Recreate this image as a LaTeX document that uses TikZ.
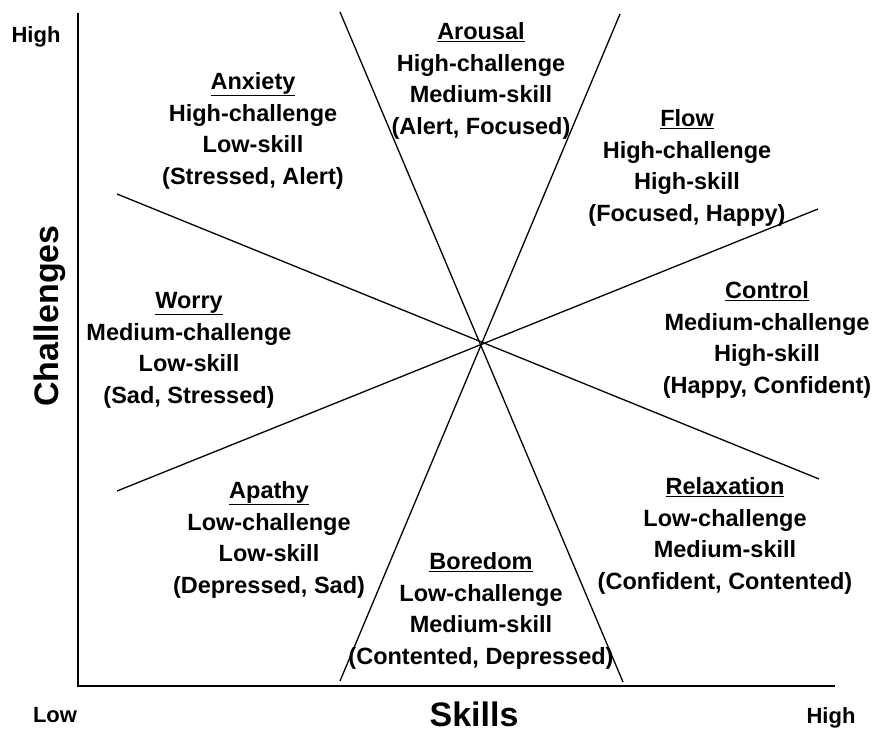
\documentclass[tikz,border=0pt]{standalone}
\usepackage{fontspec}
\setmainfont{Liberation Sans}
\begin{document}
\begin{tikzpicture}[x=1pt,y=-1pt,
  region/.style={align=center,anchor=north,inner sep=0pt,
    font=\fontsize{23.5}{31.8}\selectfont\bfseries},
  endlabel/.style={inner sep=0pt,anchor=base,font=\fontsize{22}{26}\selectfont\bfseries},
  axislabel/.style={inner sep=0pt,anchor=base,font=\fontsize{34}{40}\selectfont\bfseries},
  axis/.style={line width=1.6pt},
  divider/.style={line width=1.3pt}]
\useasboundingbox (0,0) rectangle (874,733);
% axes
\coordinate (origin) at (78,686);
\coordinate (ytop) at (78,13);
\coordinate (xend) at (835,686);
\draw[axis] (ytop) -- (origin) -- (xend);
% dividing lines
\coordinate (a1) at (340,12);
\coordinate (a2) at (623,682);
\coordinate (b1) at (620,14);
\coordinate (b2) at (340,681);
\coordinate (c1) at (818,209);
\coordinate (c2) at (117,491);
\coordinate (d1) at (117,194);
\coordinate (d2) at (819,479);
\draw[divider] (a1) -- (a2);
\draw[divider] (b1) -- (b2);
\draw[divider] (c1) -- (c2);
\draw[divider] (d1) -- (d2);
% region texts
\node[region] (arousal) at (481,22) {\underline{Arousal}\\High-challenge\\Medium-skill\\(Alert, Focused)};
\node[region] (anxiety) at (253,72) {\underline{Anxiety}\\High-challenge\\Low-skill\\(Stressed, Alert)};
\node[region] (flow) at (687,109) {\underline{Flow}\\High-challenge\\High-skill\\(Focused, Happy)};
\node[region] (control) at (767,281) {\underline{Control}\\Medium-challenge\\High-skill\\(Happy, Confident)};
\node[region] (worry) at (189,292) {\underline{Worry}\\Medium-challenge\\Low-skill\\(Sad, Stressed)};
\node[region] (apathy) at (269,481) {\underline{Apathy}\\Low-challenge\\Low-skill\\(Depressed, Sad)};
\node[region] (relax) at (725,477) {\underline{Relaxation}\\Low-challenge\\Medium-skill\\(Confident, Contented)};
\node[region] (boredom) at (481,552) {\underline{Boredom}\\Low-challenge\\Medium-skill\\(Contented, Depressed)};
% axis labels
\node[endlabel] (yhigh) at (36,43) {High};
\node[endlabel] (xlow) at (55,722) {Low};
\node[endlabel] (xhigh) at (831,723) {High};
\node[axislabel] (skills) at (474,726) {Skills};
\node[axislabel,rotate=90] (chall) at (58,316) {Challenges};
\end{tikzpicture}
\end{document}
